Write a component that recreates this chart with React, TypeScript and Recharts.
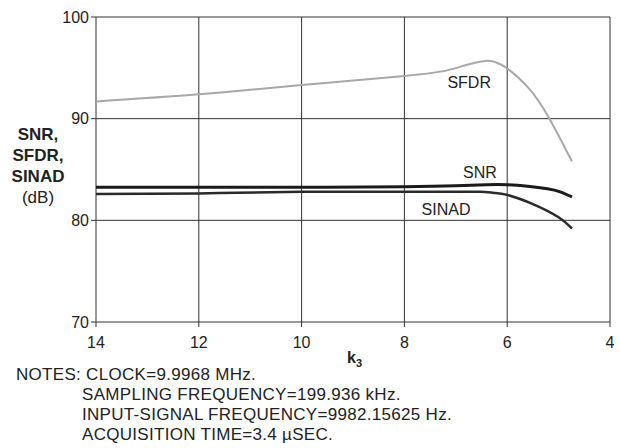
import React from 'react'
import {
  LineChart,
  Line,
  XAxis,
  YAxis,
  CartesianGrid,
  ReferenceDot,
  Label,
} from 'recharts'

const xTicks = [14, 12, 10, 8, 6, 4]
const yTicks = [70, 80, 90, 100]

const sfdrK = [14, 12, 10, 8, 7.17, 6.78, 6.39, 6.2, 6, 5.6, 5.2, 4.74]
const sfdrDb = [91.7, 92.4, 93.3, 94.2, 94.75, 95.3, 95.7, 95.5, 94.95, 93.1, 90.2, 85.8]

const snrK = [14, 12, 10, 8, 7, 6.4, 6, 5.6, 5.22, 4.97, 4.74]
const snrDb = [83.25, 83.25, 83.25, 83.3, 83.4, 83.5, 83.5, 83.35, 83.1, 82.8, 82.3]

const sinadK = [14, 12, 10, 8, 7, 6.53, 6.25, 6, 5.5, 5.0, 4.74]
const sinadDb = [82.6, 82.65, 82.8, 82.8, 82.8, 82.8, 82.7, 82.5, 81.6, 80.3, 79.2]

const toRows = (ks: number[], vs: number[]) => ks.map((k, i) => ({ k, db: vs[i] }))

const sfdr = toRows(sfdrK, sfdrDb)
const snr = toRows(snrK, snrDb)
const sinad = toRows(sinadK, sinadDb)

const notes = [
  'CLOCK=9.9968 MHz.',
  'SAMPLING FREQUENCY=199.936 kHz.',
  'INPUT-SIGNAL FREQUENCY=9982.15625 Hz.',
  'ACQUISITION TIME=3.4 \u00b5SEC.',
]

const font = '"Liberation Sans", Arial, sans-serif'
const tickStyle = { fill: '#222', fontSize: 16, fontFamily: font }

function SeriesLabel({ x, y, text }: { x: number; y: number; text: string }) {
  return (
    <ReferenceDot key={text} x={x} y={y} r={0} stroke="none" fill="none">
      <Label
        value={text}
        position="center"
        style={{ fill: '#222', fontSize: 16, fontFamily: font }}
      />
    </ReferenceDot>
  )
}

export default function App() {
  return (
    <div style={{ position: 'absolute', left: 0, top: 0, width: 619, height: 448, background: '#fff' }}>
      <LineChart
        width={619}
        height={448}
        margin={{ top: 17, right: 9, bottom: 96, left: 56 }}
      >
        <CartesianGrid
          stroke="#333"
          strokeWidth={1}
          horizontalValues={yTicks}
          verticalValues={xTicks}
        />
        <XAxis
          dataKey="k"
          type="number"
          domain={[4, 14]}
          reversed
          ticks={xTicks}
          height={30}
          tickSize={5}
          tickMargin={10}
          axisLine={false}
          tickLine={{ stroke: '#333' }}
          tick={tickStyle}
          allowDuplicatedCategory={false}
        />
        <YAxis
          type="number"
          domain={[70, 100]}
          ticks={yTicks}
          width={40}
          tickSize={5}
          tickMargin={2}
          axisLine={false}
          tickLine={{ stroke: '#333' }}
          tick={tickStyle}
        />
        <Line
          data={sfdr}
          dataKey="db"
          type="natural"
          stroke="#a8a8a8"
          strokeWidth={2}
          dot={false}
          isAnimationActive={false}
        />
        <Line
          data={snr}
          dataKey="db"
          type="natural"
          stroke="#1a1a1a"
          strokeWidth={3}
          dot={false}
          isAnimationActive={false}
        />
        <Line
          data={sinad}
          dataKey="db"
          type="natural"
          stroke="#2a2a2a"
          strokeWidth={2.5}
          dot={false}
          isAnimationActive={false}
        />
        {SeriesLabel({ x: 6.74, y: 93.6, text: 'SFDR' })}
        {SeriesLabel({ x: 6.53, y: 84.7, text: 'SNR' })}
        {SeriesLabel({ x: 7.19, y: 81.1, text: 'SINAD' })}
      </LineChart>

      <div
        style={{
          position: 'absolute',
          left: 0,
          top: 124,
          width: 76,
          textAlign: 'center',
          fontFamily: font,
          fontSize: 17,
          lineHeight: '21px',
          color: '#222',
        }}
      >
        <div style={{ fontWeight: 'bold' }}>SNR,</div>
        <div style={{ fontWeight: 'bold' }}>SFDR,</div>
        <div style={{ fontWeight: 'bold' }}>SINAD</div>
        <div>(dB)</div>
      </div>

      <div
        style={{
          position: 'absolute',
          left: 347,
          top: 349,
          fontFamily: font,
          fontSize: 16,
          fontWeight: 'bold',
          color: '#222',
        }}
      >
        k<sub style={{ fontSize: 11 }}>3</sub>
      </div>

      <div
        style={{
          position: 'absolute',
          left: 16,
          top: 365,
          fontFamily: font,
          fontSize: 17,
          lineHeight: '20px',
          letterSpacing: 0.3,
          color: '#222',
        }}
      >
        {notes.map((n, i) => (
          <div key={n} style={{ paddingLeft: i === 0 ? 0 : 66 }}>
            {i === 0 ? 'NOTES: ' : ''}
            {n}
          </div>
        ))}
      </div>
    </div>
  )
}
